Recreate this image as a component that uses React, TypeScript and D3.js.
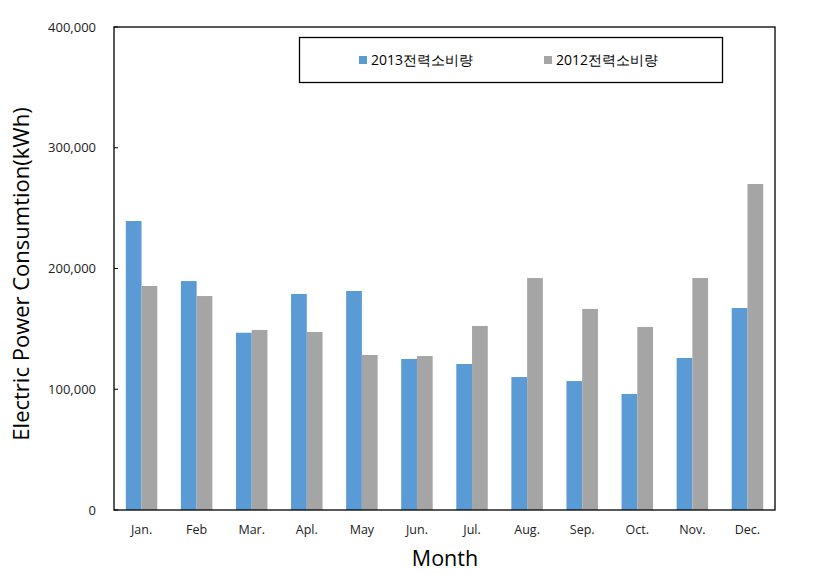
import React from "react";
import * as d3 from "d3";

const months = ["Jan.", "Feb", "Mar.", "Apl.", "May", "Jun.", "Jul.", "Aug.", "Sep.", "Oct.", "Nov.", "Dec."];
const series2013 = [239300, 189600, 146800, 178900, 181400, 125100, 120900, 110100, 106800, 96100, 125900, 167300];
const series2012 = [185500, 177200, 149100, 147400, 128400, 127500, 152400, 192100, 166500, 151600, 192100, 270000];
const yTicks = [0, 100000, 200000, 300000, 400000];
const seriesNames = ["2013전력소비량", "2012전력소비량"];
const colors = ["#5B9BD5", "#A5A5A5"];

export default function App() {
  const W = 839, H = 574;
  const left = 114, right = 775, top = 27, bottom = 510;
  const x = d3.scaleBand<string>().domain(months).range([left, right]).paddingInner(0).paddingOuter(0);
  const y = d3.scaleLinear().domain([0, 400000]).range([bottom, top]);
  const bw = x.bandwidth() / 3.5;
  const fmt = d3.format(",");
  const font = "'Open Sans', 'Noto Sans', sans-serif";
  const data = [series2013, series2012];
  return (
    <svg width={W} height={H} style={{ position: "absolute", left: 0, top: 0, background: "#fff" }}>
      <rect x={0} y={0} width={W} height={H} fill="#fff" />
      {data.map((s, si) =>
        s.map((v, i) => (
          <rect
            key={`${si}-${i}`}
            x={(x(months[i]) as number) + x.bandwidth() / 2 - bw + si * bw}
            y={y(v)}
            width={bw}
            height={y(0) - y(v)}
            fill={colors[si]}
          />
        ))
      )}
      <rect x={left} y={top} width={right - left} height={bottom - top} fill="none" stroke="#000" strokeWidth={1.3} />
      {yTicks.map((t) => (
        <g key={t}>
          <line x1={left} x2={left + 4} y1={y(t)} y2={y(t)} stroke="#000" />
          <text x={96} y={y(t)} dy="0.35em" textAnchor="end" fontFamily={font} fontSize={13} fill="#222">
            {fmt(t)}
          </text>
        </g>
      ))}
      {months.map((m) => (
        <text key={m} x={(x(m) as number) + x.bandwidth() / 2} y={530} dy="0.35em" textAnchor="middle" fontFamily={font} fontSize={12.5} fill="#222">
          {m}
        </text>
      ))}
      <text x={445} y={558} dy="0.35em" textAnchor="middle" fontFamily={font} fontSize={21.5} fill="#000">
        Month
      </text>
      <text transform={`translate(21, ${274}) rotate(-90)`} textAnchor="middle" dy="0.35em" fontFamily={font} fontSize={22} fill="#000">
        Electric Power Consumtion(kWh)
      </text>
      <rect x={299.5} y={37.5} width={423} height={45} fill="#fff" stroke="#000" strokeWidth={1.3} />
      {seriesNames.map((n, i) => {
        const lx = i === 0 ? 359 : 544;
        return (
          <g key={n}>
            <rect x={lx} y={56} width={8} height={8} fill={colors[i]} />
            <text x={lx + 12} y={60} dy="0.35em" fontFamily={font} fontSize={14} fill="#000">
              {n}
            </text>
          </g>
        );
      })}
    </svg>
  );
}
